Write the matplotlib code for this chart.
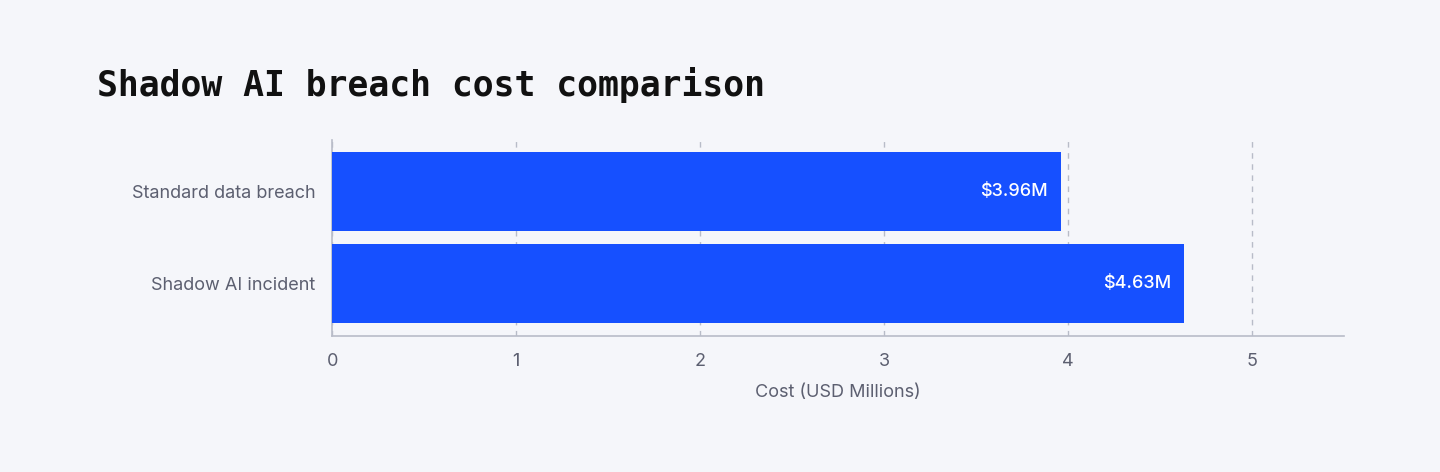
import matplotlib.pyplot as plt

categories = ["Standard data breach", "Shadow AI incident"]
costs = [3.96, 4.63]
value_labels = ["$3.96M", "$4.63M"]

bg = "#f5f6fa"
bar_color = "#1650ff"
text_color = "#5c5f70"

plt.rcParams['font.family'] = ['Inter', 'DejaVu Sans']

fig = plt.figure(figsize=(14.4, 4.72), dpi=100, facecolor=bg)
ax = fig.add_axes([0.2306, 0.288, 0.7028, 0.415], facecolor=bg)

y = list(range(len(categories)))
rects = ax.barh(y, costs, height=0.86, color=bar_color, zorder=3)
for rect, lab in zip(rects, value_labels):
    ax.text(rect.get_width() - 0.07, rect.get_y() + rect.get_height() / 2, lab,
            ha='right', va='center', color='white', fontsize=13, fontweight='medium', zorder=4)

ax.set_xlim(0, 5.5)
ax.set_ylim(1.57, -0.56)
ax.set_xticks([0, 1, 2, 3, 4, 5])
ax.set_yticks(y, categories)
ax.tick_params(axis='both', length=0, labelsize=13, labelcolor=text_color)
ax.tick_params(axis='x', pad=12)
ax.tick_params(axis='y', pad=12)
ax.grid(axis='x', linestyle=(0, (4, 4)), color='#b8bcc8', linewidth=1, zorder=0)
ax.xaxis.grid(True)
ax.set_axisbelow(True)
for s in ['top', 'right']:
    ax.spines[s].set_visible(False)
for s in ['left', 'bottom']:
    ax.spines[s].set_color('#b8bcc8')
    ax.spines[s].set_linewidth(1.2)
ax.set_xlabel('Cost (USD Millions)', fontsize=13, color=text_color, labelpad=10)

fig.text(97 / 1440, 1 - 85 / 472, 'Shadow AI breach cost comparison', fontsize=25,
         fontweight='bold', color='#111111', va='center', ha='left',
         family=['DejaVu Sans Mono', 'DejaVu Sans'])

fig.savefig('out.png', dpi=100, facecolor=bg)
